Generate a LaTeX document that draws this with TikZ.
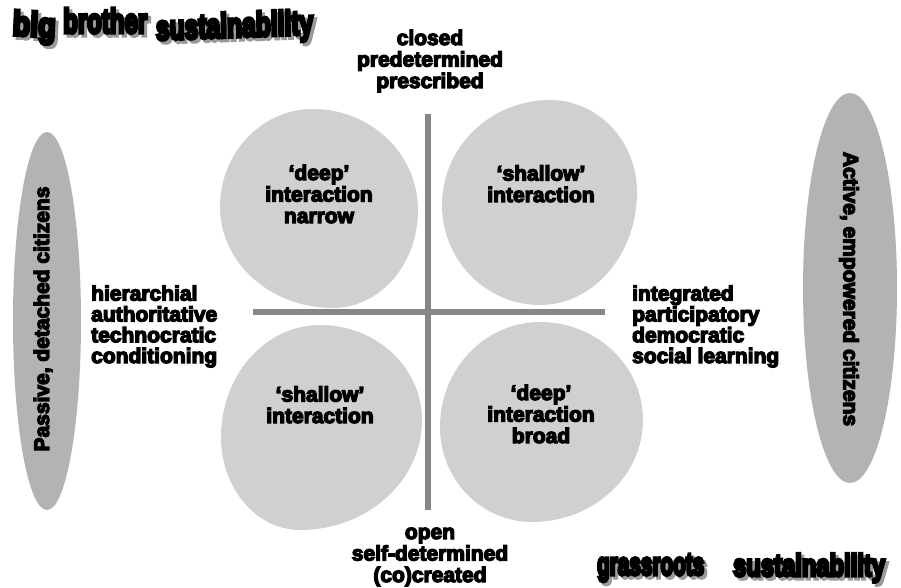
\documentclass[tikz,border=0pt]{standalone}
\usepackage{fontspec}
\usetikzlibrary{shapes.geometric}
\newfontfamily\hv{Liberation Sans Bold}[FakeBold=6]
\newfontfamily\hvt{Liberation Sans Bold}[FakeBold=10]
\definecolor{blobgray}{HTML}{D0D0D0}
\definecolor{axisgray}{HTML}{878787}
\definecolor{ellgray}{HTML}{B3B3B3}
\definecolor{shadowgray}{HTML}{9A9A9A}
\begin{document}
\begin{tikzpicture}[x=1pt,y=-1pt,
  lbl/.style={font=\hv\fontsize{21}{21.5}\selectfont, inner sep=0pt, align=center, anchor=base},
  side/.style={font=\hv\fontsize{21}{20.8}\selectfont, inner sep=0pt, align=left, anchor=base west},
  blob/.style={fill=blobgray, draw=none},
  axisline/.style={draw=axisgray, line width=6pt},
  cit/.style={ellipse, fill=ellgray, draw=none, inner sep=0pt},
  citlbl/.style={font=\hv\fontsize{21}{22}\selectfont, inner sep=0pt, anchor=center},
  wa/.style={inner sep=0pt, anchor=base west, yscale=1.15},
  wash/.style={wa, text=shadowgray},
]
\useasboundingbox (0,0) rectangle (901,588);

% citizen ellipses
\node[cit, minimum width=68pt, minimum height=378pt] (pe) at (47,321) {};
\node[cit, minimum width=94pt, minimum height=390pt] (ae) at (850,288) {};
\node[citlbl, rotate=90] (pt) at (43,319) {Passive, detached citizens};
\node[citlbl, rotate=-90] (at) at (849,289) {Active, empowered citizens};

% blobs
\path[blob] (313,109) .. controls (371.0,109) and (418,154.2) .. (418,210)
  .. controls (418,264.1) and (380.0,308) .. (333,308)
  .. controls (270.6,308) and (220,262.8) .. (220,207)
  .. controls (220,152.9) and (261.6,109) .. (313,109) -- cycle;
\path[blob] (550,100) .. controls (598.0,100) and (637,141.2) .. (637,192)
  .. controls (637,254.4) and (593.6,305) .. (540,305)
  .. controls (485.9,305) and (442,260.2) .. (442,205)
  .. controls (442,147.0) and (490.4,100) .. (550,100) -- cycle;
\path[blob] (320,325) .. controls (376.3,325) and (422,367.5) .. (422,420)
  .. controls (422,480.8) and (367.4,530) .. (300,530)
  .. controls (256.4,530) and (221,488.4) .. (221,437)
  .. controls (221,375.1) and (265.3,325) .. (320,325) -- cycle;
\path[blob] (540,322) .. controls (596.9,322) and (643,365.9) .. (643,420)
  .. controls (643,476.3) and (593.3,522) .. (532,522)
  .. controls (481.2,522) and (440,479.5) .. (440,427)
  .. controls (440,369.0) and (484.8,322) .. (540,322) -- cycle;

% axes
\coordinate (vt) at (428,114);
\coordinate (vb) at (428,510);
\coordinate (hl) at (253,312);
\coordinate (hr) at (605,312);
\draw[axisline] (vt) -- (vb);
\draw[axisline] (hl) -- (hr);

% blob labels (anchor = baseline of last line)
\node[lbl] (tl) at (319,223) {‘deep’\\interaction\\narrow};
\node[lbl] (tr) at (541,202) {‘shallow’\\interaction};
\node[lbl] (bl) at (320,423) {‘shallow’\\interaction};
\node[lbl] (br) at (541,443) {‘deep’\\interaction\\broad};

% axis labels
\node[lbl] (top) at (430,88) {closed\\predetermined\\prescribed};
\node[lbl] (bot) at (430,582) {open\\self-determined\\(co)created};
\node[side] (left) at (91,363) {hierarchial\\authoritative\\technocratic\\conditioning};
\node[side] (right) at (632,363) {integrated\\participatory\\democratic\\social learning};

% word art titles
\node[wash, font=\hvt\fontsize{30}{30}\selectfont, xscale=0.96, rotate=-3] (s1) at (15,38) {big};
\node[wash, font=\hvt\fontsize{30}{30}\selectfont, xscale=0.8] (s2) at (66,36) {brother};
\node[wash, font=\hvt\fontsize{30}{30}\selectfont, xscale=0.82, rotate=1.5] (s3) at (159,43) {sustainability};
\node[wa, font=\hvt\fontsize{30}{30}\selectfont, xscale=0.96, rotate=-3] (t1) at (12,35) {big};
\node[wa, font=\hvt\fontsize{30}{30}\selectfont, xscale=0.8] (t2) at (63,33) {brother};
\node[wa, font=\hvt\fontsize{30}{30}\selectfont, xscale=0.82, rotate=1.5] (t3) at (156,40) {sustainability};

\node[wash, font=\hvt\fontsize{28}{28}\selectfont, xscale=0.74] (s4) at (600,578) {grassroots};
\node[wash, font=\hvt\fontsize{27}{27}\selectfont, xscale=0.88] (s5) at (736,579) {sustainability};
\node[wa, font=\hvt\fontsize{28}{28}\selectfont, xscale=0.74] (t4) at (597,575) {grassroots};
\node[wa, font=\hvt\fontsize{27}{27}\selectfont, xscale=0.88] (t5) at (733,576) {sustainability};
\end{tikzpicture}
\end{document}
